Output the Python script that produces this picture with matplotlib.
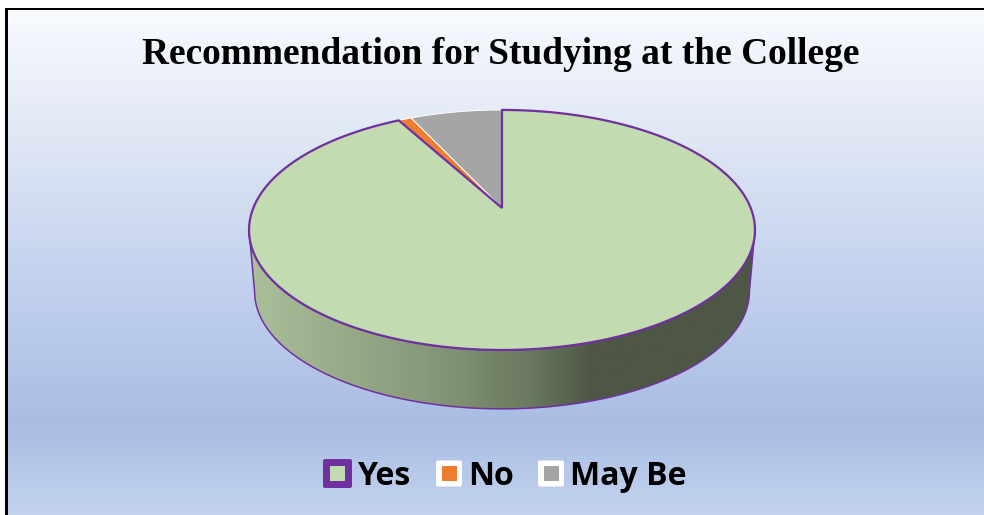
import numpy as np
import matplotlib
matplotlib.use("Agg")
import matplotlib.pyplot as plt
from matplotlib.colors import LinearSegmentedColormap
from matplotlib.patches import FancyBboxPatch, Polygon, Rectangle

title = "Recommendation for Studying at the College"
categories = ["Yes", "No", "May Be"]
values = [92, 1, 7]
colors = ["#c3dbb0", "#ed7d31", "#a5a5a5"]
edge_colors = ["#7030a0", "#ffffff", "#ffffff"]

# pie shape in pixels, the apex sits above the ellipse middle because of the perspective
apex_x, apex_y = 502, 208
scale_x, scale_y = 248.7, 116
tilt = 0.183
depth = 62
purple = "#7030a0"


# point on the rim for an angle measured clockwise from 12 o'clock
def rim(angle, shrink=1.0):
    x = np.sin(angle)
    y = np.cos(angle)
    px = apex_x + shrink * scale_x * x / (1 + tilt * y)
    py = apex_y - shrink * scale_y * y / (1 + tilt * y)
    return px, py


fig = plt.figure(figsize=(9.84, 5.15), dpi=100)
ax = fig.add_axes([0, 0, 1, 1])

# background gradient and the black frame
bg_cmap = LinearSegmentedColormap.from_list(
    "bg",
    [(0, "#f8fafe"), (0.25, "#e0e7f5"), (0.5, "#c6d4ef"), (0.82, "#a9bde3"), (1, "#c3d3ee")],
)
ax.imshow(
    np.linspace(0, 1, 256).reshape(-1, 1),
    cmap=bg_cmap,
    extent=[8, 984, 515, 10],
    aspect="auto",
    zorder=0,
)
ax.add_patch(Rectangle((5, 8), 3, 507, color="black", lw=0, zorder=1))
ax.add_patch(Rectangle((5, 8), 979, 2, color="black", lw=0, zorder=1))

# side of the disc, from the widest point of the ellipse on one side round to the other
widest = np.arcsin(tilt)
angles = np.linspace(np.pi / 2 + widest, 3 * np.pi / 2 - widest, 300)
top_x, top_y = rim(angles)
low_x, low_y = rim(angles, 0.978)
low_y = low_y + depth
side_pts = np.column_stack(
    [np.concatenate([top_x, low_x[::-1]]), np.concatenate([top_y, low_y[::-1]])]
)
ax.add_patch(Polygon(side_pts, closed=True, fc="none", ec=purple, lw=1.1, zorder=3))
side_cmap = LinearSegmentedColormap.from_list(
    "side", [(0, "#abbf9a"), (0.35, "#87997a"), (0.55, "#6b7a60"), (0.68, "#4e5745"), (1, "#4e5745")]
)
img = ax.imshow(
    np.linspace(0, 1, 256).reshape(1, -1),
    cmap=side_cmap,
    extent=[250, 755, 420, 220],
    aspect="auto",
    zorder=2,
)
img.set_clip_path(Polygon(side_pts, closed=True, transform=ax.transData))

# slices drawn clockwise from the top
start = 0.0
for name, value, color, edge in zip(categories, values, colors, edge_colors):
    sweep = 2 * np.pi * value / sum(values)
    a = np.linspace(start, start + sweep, 300)
    px, py = rim(a)
    pts = np.column_stack([np.r_[apex_x, px], np.r_[apex_y, py]])
    lw = 1.6 if name == "Yes" else 0.7
    z = 5 if name == "Yes" else 4
    ax.add_patch(Polygon(pts, closed=True, fc=color, ec=edge, lw=lw, joinstyle="miter", zorder=z))
    start += sweep

ax.text(
    501, 55, title,
    family="Liberation Serif", weight="bold", fontsize=26.9,
    ha="center", va="center", color="black", zorder=6,
)

# legend
legend_x = [323, 436, 538]
legend_w = [29, 26, 26]
legend_border = [purple, "white", "white"]
for i, name in enumerate(categories):
    w = legend_w[i]
    cy = 473.5
    ax.add_patch(
        FancyBboxPatch(
            (legend_x[i] + 2, cy - w / 2 + 2), w - 4, w - 4,
            boxstyle="round,pad=2", fc=legend_border[i], ec="none", zorder=6,
        )
    )
    ax.add_patch(Rectangle((legend_x[i] + w / 2 - 7.5, cy - 7.5), 15, 15, fc=colors[i], ec="none", zorder=7))
    ax.text(
        legend_x[i] + w + 6, cy - 1, name,
        family="Open Sans", weight="bold", fontsize=23,
        ha="left", va="center_baseline", color="black", zorder=7,
    )

ax.set_xlim(0, 984)
ax.set_ylim(515, 0)
ax.axis("off")

fig.savefig("out.png", dpi=100)
